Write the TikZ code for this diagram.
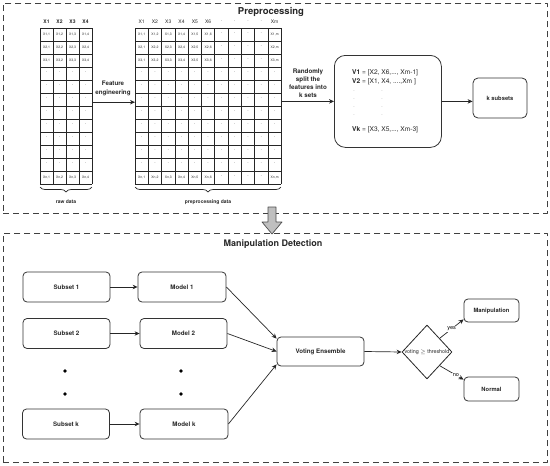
\documentclass[tikz,border=0pt]{standalone}
\usepackage{fontspec}
\setmainfont{TeX Gyre Heros}
\usetikzlibrary{arrows.meta,shapes.geometric,decorations.pathreplacing,calc}
\newcommand{\fsz}[2]{\fontsize{#1}{#2}\selectfont}
\begin{document}
\begin{tikzpicture}[x=1pt,y=-1pt,line join=round,
  dashbox/.style={draw=black!75,line width=0.8pt,dash pattern=on 6pt off 4pt,inner sep=0,anchor=north west},
  rbox/.style={draw=black!80,line width=0.8pt,rounded corners=4pt,fill=white,inner sep=0,
    font=\fsz{6.2}{7.5}\bfseries,text=black!85},
  arr/.style={-{Stealth[length=5pt,width=4.5pt]},line width=0.7pt,draw=black!85},
  gridln/.style={line width=0.7pt,draw=black!85},
  cell/.style={inner sep=0,font=\fsz{3.4}{4},text=black!80},
  celldot/.style={inner sep=0,font=\fsz{5}{6},text=black!60},
  hdr/.style={inner sep=0,font=\fsz{5}{6},text=black!85},
  lbl/.style={inner sep=0,font=\fsz{6.2}{8.8}\bfseries,text=black!85,align=center},
  brc/.style={decorate,decoration={brace,mirror,amplitude=5pt},line width=0.7pt,draw=black!85},
  vtxt/.style={inner sep=0,anchor=west,font=\fsz{6.6}{8},text=black!85},
  dot/.style={circle,fill=black,inner sep=0,minimum size=3.6pt},
  elbl/.style={fill=white,inner sep=0.6pt,font=\fsz{5.6}{6.5},text=black}
]
\useasboundingbox (0,0) rectangle (550,466);

% ---------- outer dashed boxes ----------
\node[dashbox,minimum width=544pt,minimum height=210pt] (prebox) at (3,3) {};
\node[dashbox,minimum width=544pt,minimum height=229pt] (detbox) at (3,233) {};
\node[inner sep=0,font=\fsz{9.5}{11}\bfseries,text=black!85] (t1) at (271,12) {Preprocessing};
\node[inner sep=0,font=\fsz{9}{11}\bfseries,text=black!85] (t2) at (273,244) {Manipulation Detection};

% ---------- hollow arrow ----------
\draw[black!70,fill=black!25,line width=0.7pt] (268,207) -- (276,207) -- (276,222) -- (282,222)
  -- (272,234) -- (262,222) -- (268,222) -- cycle;

% ---------- raw data table ----------
\node[inner sep=0,minimum width=52pt,minimum height=156pt,anchor=north west] (raw) at (40,28) {};
\foreach \i in {0,...,4} \draw[gridln] (40+\i*13,28) -- (40+\i*13,184);
\foreach \j in {0,...,12} \draw[gridln] (40,28+\j*13) -- (92,28+\j*13);
\foreach \c in {1,...,4}{
  \node[hdr,font=\fsz{5}{6}\bfseries] (rh\c) at (40+\c*13-6.5,22) {X\c};
  \foreach \r in {1,2,3} \node[cell] (r\r-\c) at (40+\c*13-6.5,28+\r*13-6.5) {X\r,\c};
  \foreach \r in {4,...,11} \node[celldot] (r\r-\c) at (40+\c*13-6.5,28+\r*13-7.5) {.};
  \node[cell] (r12-\c) at (40+\c*13-6.5,28+12*13-6.5) {Xn,\c};
}
\draw[brc] (40,187) -- (92,187);
\node[inner sep=0,font=\fsz{5}{6}\bfseries,text=black!85] (rawlbl) at (66,202) {raw data};

% ---------- preprocessing table ----------
\node[inner sep=0,minimum width=146.3pt,minimum height=156pt,anchor=north west] (prep) at (135,28) {};
\foreach \i in {0,...,11} \draw[gridln] (135+\i*13.3,28) -- (135+\i*13.3,184);
\foreach \j in {0,...,12} \draw[gridln] (135,28+\j*13) -- (281.3,28+\j*13);
\foreach \c/\l in {1/1,2/2,3/3,4/4,5/5,6/6,11/m}{
  \node[hdr] (ph\c) at (135+\c*13.3-6.65,22) {X\l};
  \foreach \r in {1,2,3} \node[cell] (p\r-\c) at (135+\c*13.3-6.65,28+\r*13-6.5) {X\r,\l};
  \foreach \r in {4,...,11} \node[celldot] (p\r-\c) at (135+\c*13.3-6.65,28+\r*13-7.5) {.};
  \node[cell] (p12-\c) at (135+\c*13.3-6.65,28+12*13-6.5) {Xn,\l};
}
\foreach \c in {7,...,10}{
  \node[celldot] (ph\c) at (135+\c*13.3-6.65,21) {.};
  \foreach \r in {1,...,12} \node[celldot] (p\r-\c) at (135+\c*13.3-6.65,28+\r*13-7.5) {.};
}
\draw[brc] (135,187) -- (281,187);
\node[inner sep=0,font=\fsz{5}{6}\bfseries,text=black!85] (prelbl) at (208,202) {preprocessing data};

% ---------- feature engineering arrow ----------
\node[lbl,font=\fsz{6.2}{9}\bfseries] (fe) at (113,88.5) {Feature\\engineering};
\draw[arr] ([yshift=4pt]raw.east) -- ([yshift=4pt]raw.east -| prep.west);

% ---------- split box ----------
\node[rbox,rounded corners=11pt,minimum width=107pt,minimum height=92pt,anchor=north west] (vbox) at (334,55) {};
\node[lbl,font=\fsz{6.3}{8}\bfseries] (split) at (308,83) {Randomly\\split the\\features into\\k sets};
\draw[arr] (prep.east |- vbox.west) -- (vbox.west);
\node[vtxt] (v1) at (352,73) {\textbf{V1} = [X2, X6,..., Xm-1]};
\node[vtxt] (v2) at (352,82) {\textbf{V2} = [X1, X4, ....,Xm ]};
\foreach \k/\yy in {1/91,2/99,3/107,4/115}{
  \node[celldot,text=black!45] (vda\k) at (354,\yy) {.};
  \node[celldot,text=black!45] (vdb\k) at (382,\yy) {.};
}
\node[vtxt] (vk) at (352,130) {\textbf{Vk} = [X3, X5,..., Xm-3]};

\node[rbox,rounded corners=5pt,minimum width=54pt,minimum height=40pt,font=\fsz{5.8}{7}\bfseries] (ksub) at (500,98) {k subsets};
\draw[arr] (vbox.east) -- (vbox.east -| ksub.west);

% ---------- detection part ----------
\node[rbox,minimum width=87pt,minimum height=30pt] (s1) at (66.5,287) {Subset 1};
\node[rbox,minimum width=87pt,minimum height=30pt] (s2) at (66.5,333.5) {Subset 2};
\node[rbox,minimum width=87pt,minimum height=30pt] (sk) at (66,424) {Subset k};
\node[rbox,minimum width=88pt,minimum height=30pt] (m1) at (182,287) {Model 1};
\node[rbox,minimum width=87pt,minimum height=30pt] (m2) at (183.5,333.5) {Model 2};
\node[rbox,minimum width=88pt,minimum height=30pt] (mk) at (184,424) {Model k};
\node[dot] (d1) at (65,371) {};
\node[dot] (d2) at (65,394) {};
\node[dot] (d3) at (181,371) {};
\node[dot] (d4) at (181,394) {};

\draw[arr] (s1) -- (m1);
\draw[arr] (s2) -- (m2);
\draw[arr] (sk) -- (mk);

\node[rbox,minimum width=87pt,minimum height=29pt] (vote) at (320.5,351.5) {Voting Ensemble};
\draw[arr] (m1.east) -- ([yshift=-2pt]vote.north west);
\draw[arr] (m2.east) -- (vote.west);
\draw[arr] (mk.east) -- ([yshift=2pt]vote.south west);

\node[diamond,draw=black!85,line width=0.8pt,fill=white,minimum width=50pt,minimum height=54pt,inner sep=0,
  label={[inner sep=0,font=\fsz{5.4}{6},text=black!85]center:voting $\geq$ threshold}] (dia) at (427,352) {};
\draw[arr] (vote.east) -- (dia.west);

\node[rbox,minimum width=55pt,minimum height=23pt,font=\fsz{5.8}{7}\bfseries] (manip) at (491.5,310.5) {Manipulation};
\node[rbox,minimum width=55pt,minimum height=24pt,font=\fsz{5.8}{7}\bfseries] (norm) at (491.5,389) {Normal};
\draw[arr] (dia.north east) -- node[pos=0.5,elbl] (yes) {yes} ([yshift=3pt]manip.south west);
\draw[arr] (dia.south east) -- node[pos=0.68,elbl] (no) {no} ([yshift=-3pt]norm.north west);
\end{tikzpicture}
\end{document}
